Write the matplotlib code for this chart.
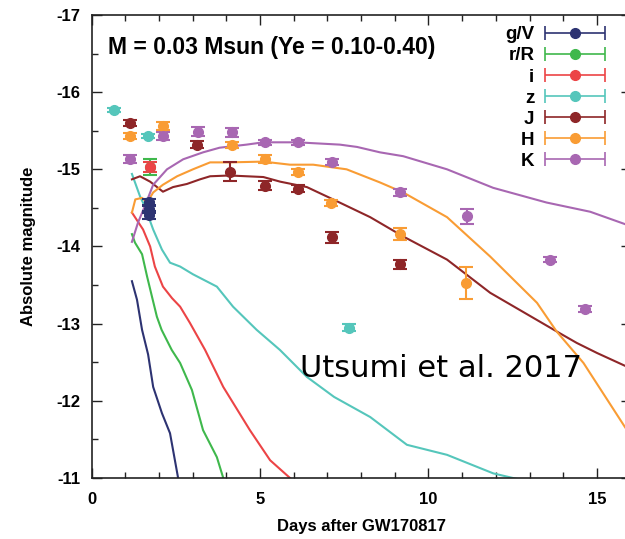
import matplotlib.pyplot as plt
import numpy as np
from matplotlib.legend_handler import HandlerErrorbar
from matplotlib.container import ErrorbarContainer

plt.rcParams['font.family'] = ['Liberation Sans', 'DejaVu Sans']
plt.rcParams['axes.unicode_minus'] = False

# bands and colours
bands = ['g/V', 'r/R', 'i', 'z', 'J', 'H', 'K']
colors = ['#2d3372', '#3fb84c', '#ec4446', '#55c6bb', '#8e2628', '#f99c34', '#a867b2']

# model light curves (days, absolute magnitude)
model_t = {
    'g/V': [1.2, 1.35, 1.5, 1.68, 1.83, 2.09, 2.33, 2.57],
    'r/R': [1.2, 1.29, 1.5, 1.65, 1.8, 1.94, 2.08, 2.38, 2.63, 2.98, 3.31, 3.72, 3.91],
    'i': [1.2, 1.53, 1.74, 1.88, 2.12, 2.39, 2.63, 2.92, 3.37, 3.91, 4.7, 5.3, 5.89],
    'z': [1.2, 1.44, 1.58, 1.83, 2.09, 2.33, 2.63, 3.01, 3.72, 4.2, 4.9, 5.59, 6.39, 7.2,
          8.27, 9.36, 10.55, 11.92, 12.7],
    'J': [1.2, 1.44, 1.74, 2.12, 2.42, 2.83, 3.22, 3.52, 4.1, 4.6, 5.1, 5.6, 6.39, 7.17,
          8.27, 9.25, 10.55, 11.83, 13.8, 14.4, 15.0, 16.0],
    'H': [1.2, 1.3, 1.5, 1.65, 1.83, 2.12, 2.54, 3.01, 3.52, 4.1, 5.1, 5.89, 6.58, 7.57,
          8.56, 9.25, 10.55, 11.83, 13.22, 13.8, 14.6, 15.83, 16.0],
    'K': [1.2, 1.38, 1.58, 1.83, 2.24, 2.72, 3.31, 3.8, 4.6, 5.1, 6.1, 7.37, 7.88, 8.56,
          9.25, 10.55, 11.92, 13.5, 14.8, 15.83, 16.0],
}
model_m = {
    'g/V': [-13.55, -13.31, -12.92, -12.6, -12.18, -11.84, -11.58, -11.0],
    'r/R': [-14.16, -14.05, -13.9, -13.61, -13.34, -13.09, -12.92, -12.66, -12.49, -12.14,
            -11.62, -11.27, -11.0],
    'i': [-14.44, -14.22, -14.0, -13.74, -13.48, -13.33, -13.22, -13.01, -12.66, -12.18,
          -11.62, -11.23, -11.0],
    'z': [-14.94, -14.65, -14.52, -14.22, -13.96, -13.79, -13.74, -13.64, -13.48, -13.22,
          -12.92, -12.66, -12.31, -12.05, -11.79, -11.43, -11.3, -11.06, -10.98],
    'J': [-14.87, -14.91, -14.84, -14.71, -14.77, -14.81, -14.87, -14.91, -14.92, -14.91,
          -14.9, -14.84, -14.77, -14.61, -14.38, -14.13, -13.83, -13.4, -12.9, -12.75,
          -12.62, -12.42],
    'H': [-14.44, -14.61, -14.63, -14.57, -14.7, -14.8, -14.91, -15.0, -15.09, -15.09,
          -15.1, -15.06, -15.06, -15.0, -14.83, -14.7, -14.38, -13.87, -13.27, -12.9,
          -12.49, -11.66, -11.55],
    'K': [-14.06, -14.31, -14.52, -14.8, -15.0, -15.13, -15.22, -15.28, -15.32, -15.35,
          -15.35, -15.32, -15.29, -15.22, -15.17, -15.0, -14.76, -14.57, -14.45, -14.29,
          -14.26],
}

# observed points
obs_t = {
    'g/V': [1.72, 1.72, 1.72],
    'r/R': [1.74],
    'i': [1.74],
    'z': [0.67, 1.69, 7.64],
    'J': [1.14, 3.13, 4.12, 5.15, 6.13, 7.14, 9.16],
    'H': [1.14, 2.13, 4.17, 5.15, 6.13, 7.12, 9.14, 11.1],
    'K': [1.14, 2.13, 3.15, 4.17, 5.15, 6.13, 7.13, 9.16, 11.14, 13.6, 14.64],
}
obs_m = {
    'g/V': [-14.57, -14.49, -14.41],
    'r/R': [-15.03],
    'i': [-15.03],
    'z': [-15.77, -15.43, -12.95],
    'J': [-15.6, -15.32, -14.97, -14.79, -14.75, -14.12, -13.77],
    'H': [-15.43, -15.56, -15.31, -15.13, -14.96, -14.56, -14.16, -13.53],
    'K': [-15.13, -15.43, -15.49, -15.48, -15.35, -15.35, -15.09, -14.7, -14.39, -13.83, -13.19],
}
obs_err = {
    'g/V': [0.05, 0.05, 0.05],
    'r/R': [0.1],
    'i': [0.06],
    'z': [0.03, 0.03, 0.04],
    'J': [0.04, 0.05, 0.12, 0.06, 0.05, 0.07, 0.06],
    'H': [0.04, 0.05, 0.04, 0.05, 0.04, 0.04, 0.08, 0.21],
    'K': [0.05, 0.05, 0.06, 0.06, 0.03, 0.03, 0.04, 0.05, 0.1, 0.03, 0.04],
}

fig = plt.figure(figsize=(6.25, 5.39), dpi=100)
ax = fig.add_axes([0.1464, 0.1132, 0.8627, 0.859])

for b, c in zip(bands, colors):
    ax.plot(model_t[b], model_m[b], color=c, lw=1.5, zorder=2)

# r/R drawn first so the i point sits on top of it
draw_order = ['r/R', 'i', 'g/V', 'z', 'J', 'H', 'K']
for b in draw_order:
    c = colors[bands.index(b)]
    ax.errorbar(obs_t[b], obs_m[b], yerr=obs_err[b], fmt='o', color=c, ms=7,
                elinewidth=1.5, capsize=5, capthick=1.5, zorder=3)

# legend proxies: horizontal bar with caps and a marker in the middle
handles = []
for b, c in zip(bands, colors):
    h = ax.errorbar([np.nan], [np.nan], xerr=[1], fmt='o', color=c, ms=7,
                    elinewidth=1.2, capsize=5, capthick=1.2)
    handles.append(h)
leg = ax.legend(handles, bands, loc='upper right', bbox_to_anchor=(0.985, 1.012),
                frameon=False, markerfirst=False, numpoints=1,
                handlelength=3.3, handletextpad=0.5, labelspacing=0.21,
                prop={'weight': 'bold', 'size': 13.5},
                handler_map={ErrorbarContainer: HandlerErrorbar(xerr_size=1.6)})

ax.set_xlim(0, 16)
ax.set_ylim(-11, -17)
ax.set_xticks([0, 5, 10, 15])
ax.set_xticks(np.arange(0, 17, 1), minor=True)
ax.set_yticks([-11, -12, -13, -14, -15, -16, -17])
ax.set_yticks(np.arange(-17, -10.9, 0.5), minor=True)
ax.tick_params(which='both', direction='in', top=True, right=True, width=1.0,
               color='#222222', labelsize=12)
ax.tick_params(which='major', length=7)
ax.tick_params(which='minor', length=4)
ax.tick_params(axis='x', which='major', pad=10)
ax.tick_params(axis='y', which='major', pad=8)
for lab in ax.get_xticklabels() + ax.get_yticklabels():
    lab.set_fontweight('bold')
for s in ax.spines.values():
    s.set_linewidth(1.2)
    s.set_color('#222222')

ax.set_xlabel('Days after GW170817', fontweight='bold', fontsize=12, labelpad=9)
ax.set_ylabel('Absolute magnitude', fontweight='bold', fontsize=12, labelpad=15)

ax.text(0.03, 0.93, 'M = 0.03 Msun (Ye = 0.10-0.40)', transform=ax.transAxes,
        fontsize=16.5, fontweight='bold', va='center', ha='left')

fig.text(0.48, 0.30, 'Utsumi et al. 2017', fontsize=22, family='DejaVu Sans',
         ha='left', va='baseline')

fig.savefig('out.png', dpi=100)
